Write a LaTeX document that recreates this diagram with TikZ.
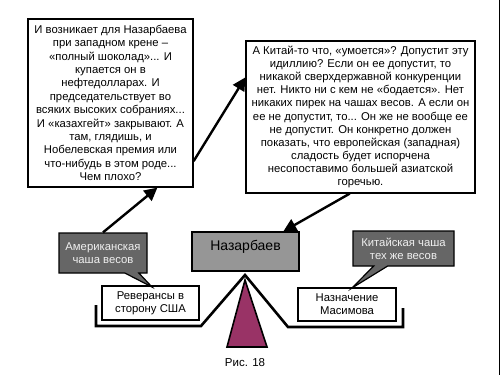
\documentclass[tikz,border=0pt]{standalone}
\usepackage{fontspec}
\setmainfont{Liberation Sans}
\usepackage{tikz}
\usetikzlibrary{arrows.meta, shapes.callouts}
\definecolor{mydark}{RGB}{0,0,0}
\definecolor{callgray}{RGB}{102,102,102}
\definecolor{namegray}{RGB}{150,150,150}
\definecolor{myplum}{RGB}{153,51,102}
\definecolor{calltext}{RGB}{240,240,240}
\tikzset{
  textblock/.style={rectangle, draw=mydark, fill=white, align=center,
    inner sep=0pt, line width=1.2pt, font=\fontsize{11.3}{13.4}\selectfont},
  panblock/.style={rectangle, draw=mydark, fill=white, align=center,
    inner sep=0pt, line width=1.2pt, font=\fontsize{11.3}{13}\selectfont},
  callblock/.style={rectangle callout, draw=mydark, fill=callgray,
    text=calltext, align=center, inner sep=0pt, line width=1.2pt,
    callout pointer width=14pt, font=\fontsize{11.3}{13}\selectfont},
  nameblock/.style={rectangle, draw=mydark, fill=namegray, align=center,
    inner sep=0pt, line width=1.2pt, font=\fontsize{14}{16}\selectfont,
    text height=10pt, text depth=12pt},
  arrow/.style={-{Triangle[length=13pt, width=13pt]}, line width=2.4pt, color=mydark},
  beam/.style={line width=2.6pt, color=mydark, line join=miter}
}
\begin{document}
\begin{tikzpicture}[x=1pt, y=-1pt]
  \useasboundingbox (0,0) rectangle (500,375);
  % Right edge rule
  \draw[line width=0.8pt, color=mydark] (499.3,0) -- (499.3,375);
  % Quotes
  \node[textblock, minimum width=165, minimum height=168] (west) at (110.5,103)
    {И возникает для Назарбаева\\при западном крене --\\«полный шоколад»... И\\купается он в\\нефтедолларах. И\\председательствует во\\всяких высоких собраниях...\\И «казахгейт» закрывают. А\\там, глядишь, и\\Нобелевская премия или\\что-нибудь в этом роде...\\Чем плохо?};
  \node[textblock, minimum width=229, minimum height=152,
    font=\fontsize{11.3}{13.1}\selectfont] (east) at (360.5,117)
    {А Китай-то что, «умоется»? Допустит эту\\идиллию? Если он ее допустит, то\\никакой сверхдержавной конкуренции\\нет. Никто ни с кем не «бодается». Нет\\никаких пирек на чашах весов. А если он\\ее не допустит, то... Он же не вообще ее\\не допустит. Он конкретно должен\\показать, что европейская (западная)\\сладость будет испорчена\\несопоставимо большей азиатской\\горечью.};
  % Scale: stand and beam
  \coordinate (pivot) at (245,275);
  \fill[myplum, draw=mydark, line width=1.6pt] (245,280) -- (267,347) -- (227,347) -- cycle;
  \draw[beam] (96,305) -- (96,326) -- (201,326) -- (pivot)
    -- (288,327) -- (403,327) -- (403,308);
  % Centre
  \node[nameblock, minimum width=107, minimum height=39] (nazar) at (245.5,251.5) {Назарбаев};
  % Pans
  \node[panblock, minimum width=97, minimum height=34] (usa) at (150.5,303)
    {Реверансы в\\сторону США};
  \node[panblock, minimum width=98, minimum height=33] (asia) at (347,304.5)
    {Назначение\\Масимова};
  % Callouts
  \node[callblock, minimum width=88, minimum height=40,
    callout absolute pointer={(152,287)}] (amer) at (103,253)
    {Американская\\чаша весов};
  \node[callblock, minimum width=101, minimum height=35,
    callout absolute pointer={(352,288)}] (china) at (403.5,248.5)
    {Китайская чаша\\тех же весов};
  % Arrows
  \draw[arrow] (amer.north) -- (west.-61);
  \draw[arrow] (west.-35) -- (east.161);
  \draw[arrow] (east.262) -- (nazar.28);
  % Caption
  \node[font=\fontsize{11.5}{13}\selectfont] (caption) at (245,363) {Рис. 18};
\end{tikzpicture}
\end{document}
